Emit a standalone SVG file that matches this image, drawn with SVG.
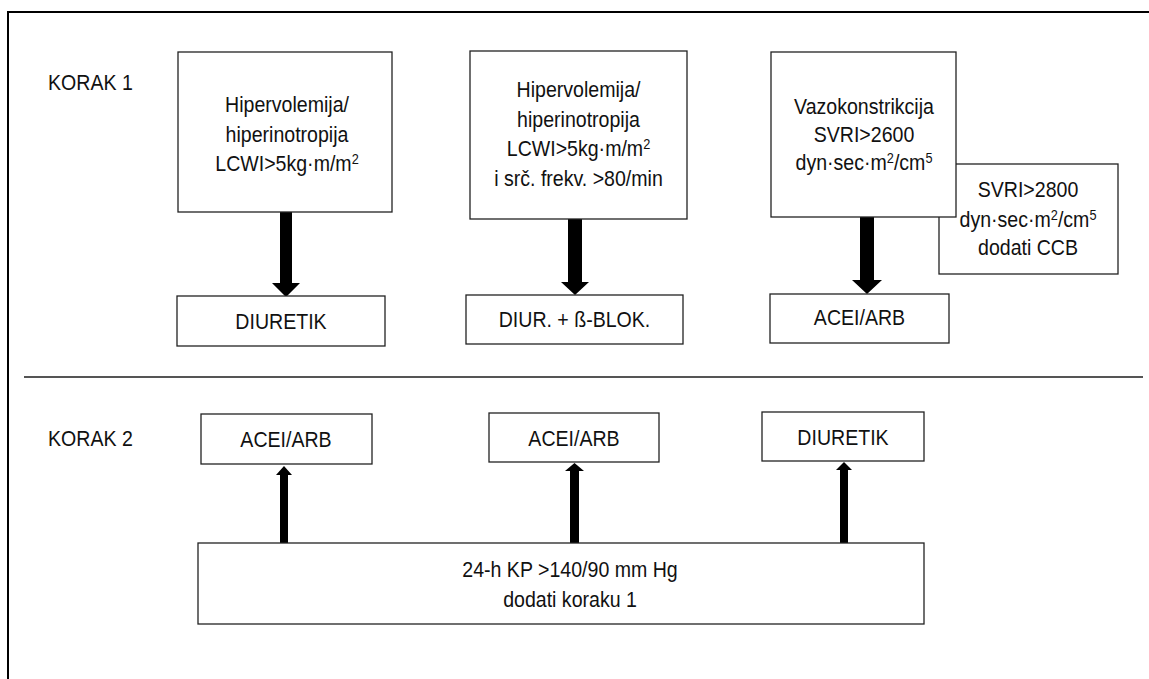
<svg xmlns="http://www.w3.org/2000/svg" width="1149" height="679" viewBox="0 0 1149 679">
<style>
.bg{fill:#fff}
.frame{fill:none;stroke:#000;stroke-width:2}
.box{fill:#fff;stroke:#222;stroke-width:1.3}
.t{font-family:"Liberation Sans",Arial,sans-serif;font-size:21.5px;fill:#111;text-anchor:middle}
.lbl{font-family:"Liberation Sans",Arial,sans-serif;font-size:21.5px;fill:#111}
.sup{font-size:14px}
.div{stroke:#555;stroke-width:2}
.arr{fill:#000}
</style>
<rect class="bg" x="0" y="0" width="1149" height="679"/>
<path class="frame" d="M8,679 V12 H1149"/>
<line class="div" x1="24" y1="377" x2="1143" y2="377"/>

<text class="lbl" transform="translate(48 0) scale(0.91 1)" x="0" y="90">KORAK 1</text>
<text class="lbl" transform="translate(48 0) scale(0.91 1)" x="0" y="446">KORAK 2</text>

<g id="connectors">
  <polygon class="arr" points="280,212 292,212 292,283 300,283 286,297 272,283 280,283"/>
  <polygon class="arr" points="568,219 582,219 582,282 589,282 575,295 561,282 568,282"/>
  <polygon class="arr" points="860,217 874,217 874,280 882,280 867,294 852,280 860,280"/>
  <polygon class="arr" points="280,543 288,543 288,475 292,475 284,466 276,475 280,475"/>
  <polygon class="arr" points="570,543 579,543 579,471 584,471 574.5,463 565,471 570,471"/>
  <polygon class="arr" points="840,543 848,543 848,470 852,470 844,462 836,470 840,470"/>
</g>

<g id="n1">
  <rect class="box" x="178" y="52" width="214" height="160"/>
  <g transform="translate(287 0) scale(0.91 1)">
    <text class="t" x="0" y="112">Hipervolemija/</text>
    <text class="t" x="0" y="142">hiperinotropija</text>
    <text class="t" x="0" y="171">LCWI&gt;5kg·m/m<tspan class="sup" dy="-7">2</tspan></text>
  </g>
</g>
<g id="n2">
  <rect class="box" x="470" y="51" width="217" height="168"/>
  <g transform="translate(578.5 0) scale(0.91 1)">
    <text class="t" x="0" y="97">Hipervolemija/</text>
    <text class="t" x="0" y="127">hiperinotropija</text>
    <text class="t" x="0" y="156">LCWI&gt;5kg·m/m<tspan class="sup" dy="-7">2</tspan></text>
    <text class="t" x="0" y="186">i srč. frekv. &gt;80/min</text>
  </g>
</g>
<g id="n4">
  <rect class="box" x="939" y="164" width="179" height="110"/>
  <g transform="translate(1028 0) scale(0.91 1)">
    <text class="t" x="0" y="197">SVRI&gt;2800</text>
    <text class="t" x="0" y="227">dyn·sec·m<tspan class="sup" dy="-7">2</tspan><tspan dy="7">/cm</tspan><tspan class="sup" dy="-7">5</tspan></text>
    <text class="t" x="0" y="255">dodati CCB</text>
  </g>
</g>
<g id="n3">
  <rect class="box" x="771" y="52" width="185" height="165"/>
  <g transform="translate(864 0) scale(0.91 1)">
    <text class="t" x="0" y="114">Vazokonstrikcija</text>
    <text class="t" x="0" y="142">SVRI&gt;2600</text>
    <text class="t" x="0" y="170">dyn·sec·m<tspan class="sup" dy="-7">2</tspan><tspan dy="7">/cm</tspan><tspan class="sup" dy="-7">5</tspan></text>
  </g>
</g>
<g id="n5">
  <rect class="box" x="177" y="296" width="208" height="50"/>
  <text class="t" transform="translate(281 0) scale(0.91 1)" x="0" y="329">DIURETIK</text>
</g>
<g id="n6">
  <rect class="box" x="466" y="295" width="217" height="49"/>
  <text class="t" transform="translate(574.5 0) scale(0.91 1)" x="0" y="327">DIUR. + ß-BLOK.</text>
</g>
<g id="n7">
  <rect class="box" x="770" y="294" width="179" height="49"/>
  <text class="t" transform="translate(859.5 0) scale(0.91 1)" x="0" y="325">ACEI/ARB</text>
</g>
<g id="n8">
  <rect class="box" x="201" y="414" width="171" height="50"/>
  <text class="t" transform="translate(286 0) scale(0.91 1)" x="0" y="447">ACEI/ARB</text>
</g>
<g id="n9">
  <rect class="box" x="489" y="413" width="170" height="49"/>
  <text class="t" transform="translate(574 0) scale(0.91 1)" x="0" y="446">ACEI/ARB</text>
</g>
<g id="n10">
  <rect class="box" x="762" y="412" width="162" height="49"/>
  <text class="t" transform="translate(843 0) scale(0.91 1)" x="0" y="445">DIURETIK</text>
</g>
<g id="n11">
  <rect class="box" x="198" y="543" width="726" height="81"/>
  <g transform="translate(570 0) scale(0.91 1)">
    <text class="t" x="0" y="577">24-h KP &gt;140/90 mm Hg</text>
    <text class="t" x="0" y="607">dodati koraku 1</text>
  </g>
</g>
</svg>
